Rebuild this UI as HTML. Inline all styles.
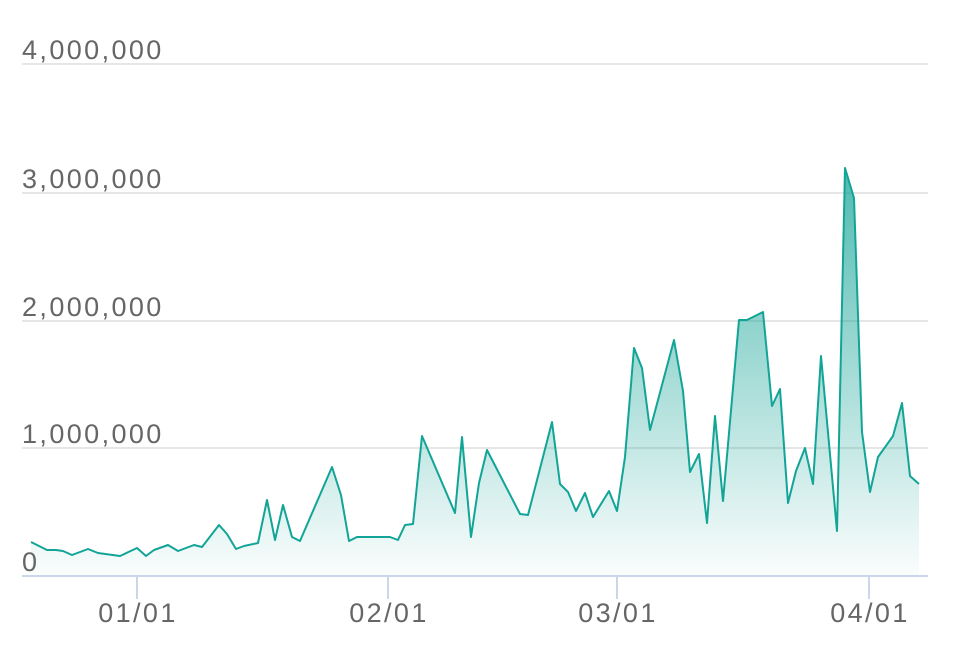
<!DOCTYPE html>
<html><head><style>html,body{margin:0;padding:0;background:#fff}</style></head>
<body>
<svg width="954" height="648" xmlns="http://www.w3.org/2000/svg" font-family="Liberation Sans, DejaVu Sans, sans-serif">
<defs>
<linearGradient id="g" x1="0" y1="168" x2="0" y2="576" gradientUnits="userSpaceOnUse">
<stop offset="0" stop-color="#14a396" stop-opacity="0.75"/>
<stop offset="1" stop-color="#14a396" stop-opacity="0.02"/>
</linearGradient>
</defs>
<g stroke="#e6e6e6" stroke-width="2">
<line x1="22" y1="64" x2="928" y2="64"/>
<line x1="22" y1="193" x2="928" y2="193"/>
<line x1="22" y1="321" x2="928" y2="321"/>
<line x1="22" y1="448" x2="928" y2="448"/>
</g>
<g fill="#666" font-size="27" letter-spacing="2.4">
<text x="22" y="59">4,000,000</text>
<text x="22" y="188">3,000,000</text>
<text x="22" y="316">2,000,000</text>
<text x="22" y="443">1,000,000</text>
<text x="22" y="571">0</text>
</g>
<path fill="url(#g)" d="M31,542 L47,550 L56,550 L63,551 L72,555 L88,549 L98,553 L120,556 L137,548 L146,556 L154,550 L168,545 L178,551 L194,545 L202,547 L219,525 L227,534 L236,549 L244,546 L258,543 L267,500 L275,540 L283,505 L292,537 L300,541 L332,467 L341,495 L349,541 L357,537 L390,537 L398,540 L405,525 L413,524 L422,436 L455,513 L462,437 L471,537 L479,483 L487,450 L520,514 L528,515 L552,422 L560,484 L568,492 L576,511 L585,493 L593,517 L609,491 L617,511 L625,457 L634,348 L642,368 L650,430 L674,340 L683,391 L690,472 L699,454 L707,523 L715,416 L723,501 L739,320 L747,320 L763,312 L772,406 L780,389 L788,503 L796,471 L805,448 L813,484 L821,356 L837,531 L845,168 L854,198 L862,432 L870,492 L878,457 L893,436 L902,403 L910,476 L919,484 L919,576 L31,576 Z"/>
<path fill="none" stroke="#12a497" stroke-width="2" stroke-linejoin="round" d="M31,542 L47,550 L56,550 L63,551 L72,555 L88,549 L98,553 L120,556 L137,548 L146,556 L154,550 L168,545 L178,551 L194,545 L202,547 L219,525 L227,534 L236,549 L244,546 L258,543 L267,500 L275,540 L283,505 L292,537 L300,541 L332,467 L341,495 L349,541 L357,537 L390,537 L398,540 L405,525 L413,524 L422,436 L455,513 L462,437 L471,537 L479,483 L487,450 L520,514 L528,515 L552,422 L560,484 L568,492 L576,511 L585,493 L593,517 L609,491 L617,511 L625,457 L634,348 L642,368 L650,430 L674,340 L683,391 L690,472 L699,454 L707,523 L715,416 L723,501 L739,320 L747,320 L763,312 L772,406 L780,389 L788,503 L796,471 L805,448 L813,484 L821,356 L837,531 L845,168 L854,198 L862,432 L870,492 L878,457 L893,436 L902,403 L910,476 L919,484"/>
<g stroke="#ccd6eb" stroke-width="2">
<line x1="22" y1="576" x2="928" y2="576"/>
<line x1="137" y1="576" x2="137" y2="599"/>
<line x1="388" y1="576" x2="388" y2="599"/>
<line x1="617" y1="576" x2="617" y2="599"/>
<line x1="869" y1="576" x2="869" y2="599"/>
</g>
<g fill="#666" font-size="27" letter-spacing="2.4" text-anchor="middle">
<text x="138" y="622">01/01</text>
<text x="389" y="622">02/01</text>
<text x="618" y="622">03/01</text>
<text x="870" y="622">04/01</text>
</g>
</svg>
</body></html>
